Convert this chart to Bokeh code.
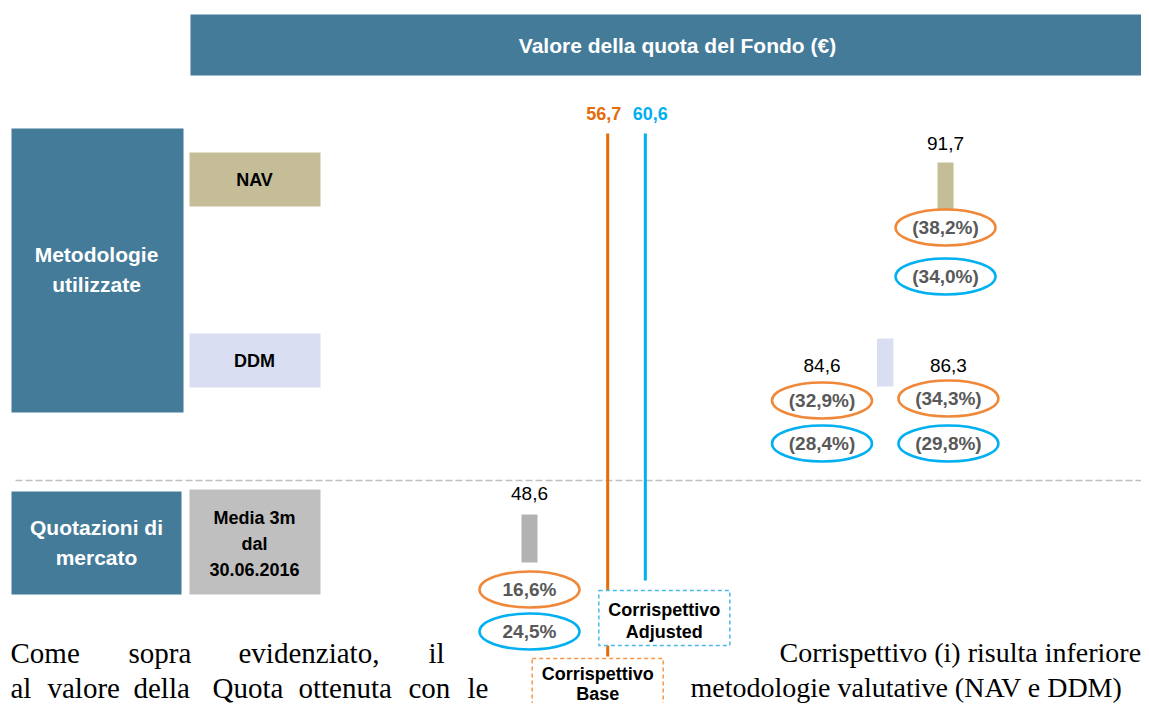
from bokeh.plotting import figure
from bokeh.models import Range1d, ColumnDataSource
from bokeh.core.properties import value
from bokeh.embed import file_html
from bokeh.resources import INLINE

# ---------------- data ----------------
title = "Valore della quota del Fondo (€)"
group_labels = ["Metodologie\nutilizzate", "Quotazioni di\nmercato"]
method_labels = ["NAV", "DDM", "Media 3m\ndal\n30.06.2016"]

nav_value = [91.7]
ddm_values = [84.6, 86.3]
market_value = [48.6]

corrispettivo_base = 56.7
corrispettivo_adjusted = 60.6

nav_vs_base = ["(38,2%)"]
nav_vs_adjusted = ["(34,0%)"]
ddm_vs_base = ["(32,9%)", "(34,3%)"]
ddm_vs_adjusted = ["(28,4%)", "(29,8%)"]
market_vs_base = ["16,6%"]
market_vs_adjusted = ["24,5%"]

body_line1_left = ["Come", "sopra", "evidenziato,", "il"]
body_line2_left = ["al", "valore", "della", "Quota", "ottenuta", "con", "le"]
body_right = ["Corrispettivo (i) risulta inferiore",
              "metodologie valutative (NAV e DDM)"]

# ---------------- styles ----------------
BLUE = "#437B99"
NAV_C = "#C4BD97"
DDM_C = "#D9DEF2"
MKT_C = "#BFBFBF"
MKT_BAR = "#B2B2B2"
ORANGE_LINE = "#E46C0A"
ORANGE_ELL = "#F0883A"
CYAN = "#00B0F0"
SANS = value("Liberation Sans")
SERIF = value("Liberation Serif")


def fmt(v):
    return f"{v:.1f}".replace(".", ",")


W, H = 1141, 703
XMIN, XMAX = -6.2, 112.0
ppu = W / (XMAX - XMIN)  # screen px per data unit (used for label offsets only)

p = figure(width=W, height=H, x_range=Range1d(XMIN, XMAX), y_range=Range1d(H, 0),
           output_backend="svg", toolbar_location=None, min_border=0,
           x_axis_location=None, y_axis_location=None, outline_line_color=None,
           background_fill_color="white", border_fill_color="white")
p.grid.visible = False
p.extra_x_ranges = {"px": Range1d(0, W)}

# ---------- layout panels (screen-like "px" range) ----------
p.quad(left=[190], right=[W], top=[14], bottom=[75], x_range_name="px",
       fill_color=BLUE, line_color=None)
p.text(x=[677], y=[45], text=[title], x_range_name="px", text_font=SANS,
       text_font_style="bold", text_font_size="21px", text_color="white",
       text_align="center", text_baseline="middle")

p.quad(left=[11, 11], right=[183, 181], top=[128, 491], bottom=[412, 594],
       x_range_name="px", fill_color=BLUE, line_color=None)
p.text(x=[96, 96], y=[269, 542], text=group_labels, x_range_name="px",
       text_font=SANS, text_font_style="bold", text_font_size="21px",
       text_color="white", text_align="center", text_baseline="middle",
       text_line_height=1.3)

p.quad(left=[189, 189, 189], right=[320, 320, 320], top=[152, 333, 489],
       bottom=[206, 387, 594], x_range_name="px",
       fill_color=[NAV_C, DDM_C, MKT_C], line_color=None)
p.text(x=[254, 254, 254], y=[179, 360, 543], text=method_labels, x_range_name="px",
       text_font=SANS, text_font_style="bold", text_font_size="18px",
       text_color="black", text_align="center", text_baseline="middle",
       text_line_height=1.3)

p.segment(x0=[15], x1=[W], y0=[480], y1=[480], x_range_name="px",
          line_color="#BFBFBF", line_width=1.5, line_dash="7 3")

# ---------- body text behind the chart ----------
p.text(x=[10, 128, 238, 428], y=[652] * 4, text=body_line1_left, x_range_name="px",
       text_font=SERIF, text_font_size="29px", text_color="black",
       text_baseline="alphabetic")
p.text(x=[10, 47, 133, 212, 298, 408, 467], y=[687] * 7, text=body_line2_left,
       x_range_name="px", text_font=SERIF, text_font_size="29px",
       text_color="black", text_baseline="alphabetic")
p.text(x=[779, 690], y=[652, 687], text=body_right, x_range_name="px",
       text_font=SERIF, text_font_size="28px", text_color="black",
       text_baseline="alphabetic")

# ---------- reference lines (Corrispettivo) ----------
p.segment(x0=[corrispettivo_base], x1=[corrispettivo_base], y0=[133], y1=[656],
          line_color=ORANGE_LINE, line_width=3)
p.segment(x0=[corrispettivo_adjusted], x1=[corrispettivo_adjusted], y0=[133], y1=[580],
          line_color=CYAN, line_width=3)
p.text(x=[corrispettivo_base], y=[113], text=[fmt(corrispettivo_base)], x_offset=-4,
       text_font=SANS, text_font_style="bold", text_font_size="18px",
       text_color=ORANGE_LINE, text_align="center", text_baseline="middle")
p.text(x=[corrispettivo_adjusted], y=[113], text=[fmt(corrispettivo_adjusted)], x_offset=5,
       text_font=SANS, text_font_style="bold", text_font_size="18px",
       text_color=CYAN, text_align="center", text_baseline="middle")

adj_dx, base_dx = 19, -10
box_src = ColumnDataSource(dict(
    x=[corrispettivo_adjusted + adj_dx / ppu, corrispettivo_base + base_dx / ppu],
    y=[617.5, 690], h=[55, 64], c=["#4BB9E6", "#F79646"]))
p.rect(x="x", y="y", width=131, width_units="screen", height="h", source=box_src,
       fill_color="white", line_color="c", line_width=1.5, line_dash="4 3")
p.text(x=[corrispettivo_adjusted] * 2, y=[609, 631], text=["Corrispettivo", "Adjusted"],
       x_offset=adj_dx, text_font=SANS, text_font_style="bold", text_font_size="18px",
       text_color="black", text_align="center", text_baseline="middle")
p.text(x=[corrispettivo_base] * 2, y=[673, 693], text=["Corrispettivo", "Base"],
       x_offset=base_dx, text_font=SANS, text_font_style="bold", text_font_size="18px",
       text_color="black", text_align="center", text_baseline="middle")

# ---------- valuation bars ----------
p.rect(x=nav_value, y=[187], width=16, width_units="screen", height=50,
       fill_color=NAV_C, line_color=None)
p.rect(x=market_value, y=[538], width=16, width_units="screen", height=48,
       fill_color=MKT_BAR, line_color=None)
p.quad(left=[ddm_values[0]], right=[ddm_values[1]], top=[338], bottom=[386],
       fill_color=DDM_C, line_color=None)

# value labels
p.text(x=nav_value, y=[143], text=[fmt(v) for v in nav_value], text_font=SANS,
       text_font_size="19px", text_color="black", text_align="center",
       text_baseline="middle")
p.text(x=market_value, y=[493], text=[fmt(v) for v in market_value], text_font=SANS,
       text_font_size="19px", text_color="black", text_align="center",
       text_baseline="middle")

# ---------- discount / premium ellipses ----------
off = 55  # px offset of DDM labels from the bar ends
ell_x = nav_value * 2 + ddm_values * 2 + market_value * 2
ell_dx = [0, 0, -off, off, -off, off, 0, 0]
ell_src = ColumnDataSource(dict(
    x=[x + d / ppu for x, d in zip(ell_x, ell_dx)],
    y=[227, 276, 400, 398, 443, 443, 589, 631],
    t=nav_vs_base + nav_vs_adjusted + ddm_vs_base + ddm_vs_adjusted
      + market_vs_base + market_vs_adjusted,
    c=[ORANGE_ELL, CYAN, ORANGE_ELL, ORANGE_ELL, CYAN, CYAN, ORANGE_ELL, CYAN],
))
p.ellipse(x="x", y="y", width=100, height=36, width_units="screen",
          height_units="screen", source=ell_src, fill_color="white",
          line_color="c", line_width=2.5)
p.text(x="x", y="y", text="t", source=ell_src, text_font=SANS,
       text_font_style="bold", text_font_size="19px", text_color="#595959",
       text_align="center", text_baseline="middle")

# DDM value labels
p.text(x=ddm_values, y=[365, 365], text=[fmt(v) for v in ddm_values],
       x_offset=[-off, off], text_font=SANS, text_font_size="19px",
       text_color="black", text_align="center", text_baseline="middle")

open("out.html", "w").write(file_html(p, INLINE))
